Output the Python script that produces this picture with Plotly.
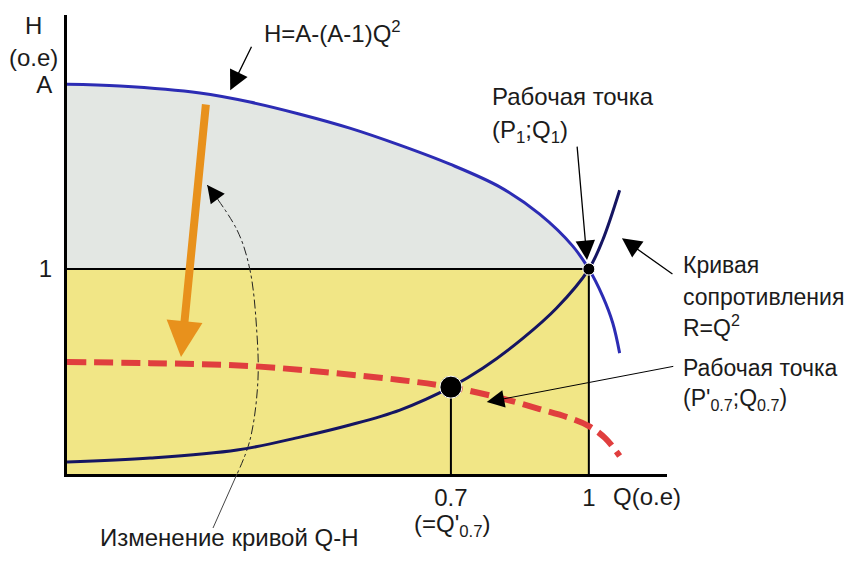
import plotly.graph_objects as go

# ---------------- data ----------------
# Pump Q-H curve  H = A-(A-1)Q^2
Q_H = [-0.135, -0.020, 0.154, 0.263, 0.372, 0.480, 0.589, 0.698, 0.807, 0.893, 0.965, 1.000, 1.030, 1.052, 1.067]
H_H = [1.902, 1.893, 1.859, 1.815, 1.756, 1.688, 1.605, 1.512, 1.400, 1.268, 1.112, 1.000, 0.868, 0.737, 0.590]

# Resistance curve R = Q^2
Q_R = [-0.135, 0.046, 0.235, 0.372, 0.480, 0.589, 0.700, 0.770, 0.857, 0.930, 1.000, 1.030, 1.067]
H_R = [0.059, 0.078, 0.117, 0.180, 0.239, 0.312, 0.424, 0.517, 0.663, 0.810, 1.000, 1.141, 1.385]

# Reduced-speed Q-H curve (dashed)
Q_NEW = [-0.135, 0.046, 0.263, 0.443, 0.589, 0.700, 0.807, 0.893, 0.959, 1.000, 1.035, 1.067]
H_NEW = [0.546, 0.541, 0.527, 0.493, 0.459, 0.424, 0.371, 0.317, 0.273, 0.234, 0.176, 0.088]

# Operating points
Q_OP = [1.0, 0.7]
H_OP = [1.0, 0.424]

X_TICKS = [0.7, 1.0]
X_TICK_TEXT = ["0.7", "1"]
Y_TICKS = [1.0, 1.902]
Y_TICK_TEXT = ["1", "A"]

# "Change of Q-H curve" arc (decorative)
Q_ARC = [0.170, 0.235, 0.263, 0.278, 0.280, 0.263, 0.235]
H_ARC = [1.410, 1.190, 0.995, 0.688, 0.444, 0.166, 0.0]

# ---------------- layout constants ----------------
X_MIN, X_MAX = -0.135, 1.17
Y_MIN, Y_MAX = 0.0, 2.24
OFF = 8                      # default page body margin
W, H = 856 - 2 * OFF, 561 - 2 * OFF
PL, PT, PW, PH = 67, 15, 600, 459   # plot area in page pixels
ML, MT = PL - OFF, PT - OFF
MR, MB = W - ML - PW, H - MT - PH

FONT = "Liberation Sans, Arial, sans-serif"
FS = 24
FS_R = 23
TXT = "#1b1b1b"
GREY = "#e3e7e3"
YELLOW = "#f1e686"
BLUE = "#2c2cb4"
NAVY = "#151562"
RED = "#e03e3e"
ORANGE = "#e8911c"


def pp(px, py):
    """page pixel position -> paper coordinates (for text placement)"""
    return (px - PL) / PW, (PT + PH - py) / PH


fig = go.Figure()

# grey area under the pump curve, above H = 1
k = Q_H.index(Q_OP[0]) + 1
fig.add_trace(go.Scatter(x=[X_MIN, Q_OP[0]], y=[H_OP[0], H_OP[0]], mode="lines",
                         line=dict(width=0), hoverinfo="skip", showlegend=False))
fig.add_trace(go.Scatter(x=Q_H[:k], y=H_H[:k], mode="lines", line=dict(width=0, shape="spline"),
                         fill="tonexty", fillcolor=GREY, hoverinfo="skip", showlegend=False))

# reference lines
fig.add_trace(go.Scatter(x=[X_MIN, Q_OP[0], Q_OP[0]], y=[H_OP[0], H_OP[0], 0], mode="lines",
                         line=dict(color="black", width=2), hoverinfo="skip", showlegend=False))
fig.add_trace(go.Scatter(x=[Q_OP[1], Q_OP[1]], y=[H_OP[1], 0], mode="lines",
                         line=dict(color="black", width=2), hoverinfo="skip", showlegend=False))

# arc "change of Q-H curve"
fig.add_trace(go.Scatter(x=Q_ARC, y=H_ARC, mode="lines",
                         line=dict(color="#222222", width=1, dash="dashdot", shape="spline"),
                         hoverinfo="skip", showlegend=False))

# curves
fig.add_trace(go.Scatter(x=Q_NEW, y=H_NEW, mode="lines",
                         line=dict(color=RED, width=6, dash="19px,8px", shape="spline"), showlegend=False))
fig.add_trace(go.Scatter(x=Q_R, y=H_R, mode="lines",
                         line=dict(color=NAVY, width=3, shape="spline"), showlegend=False))
fig.add_trace(go.Scatter(x=Q_H, y=H_H, mode="lines",
                         line=dict(color=BLUE, width=3, shape="spline"), showlegend=False))

# operating points
fig.add_trace(go.Scatter(x=Q_OP, y=H_OP, mode="markers",
                         marker=dict(color="black", size=[12, 22], opacity=1), showlegend=False))

# yellow area (below everything)
fig.add_shape(type="rect", xref="x", yref="y", x0=X_MIN, x1=Q_OP[0], y0=0, y1=H_OP[0],
              fillcolor=YELLOW, line=dict(width=0), layer="below")

ann = []


def text(px, py, s, xanchor="left", size=FS):
    x, y = pp(px, py)
    ann.append(dict(x=x, y=y, xref="paper", yref="paper", text=s, showarrow=False,
                    xanchor=xanchor, yanchor="middle", font=dict(family=FONT, size=size, color=TXT)))


def arrow(x, y, axp, ayp, color="black", width=1.3, head=2, size=3):
    ann.append(dict(x=x, y=y, xref="x", yref="y", ax=axp, ay=ayp, text="", showarrow=True,
                    arrowhead=head, arrowsize=size, arrowwidth=width, arrowcolor=color))


text(33, 26, "H", "center")
text(33, 57, "(o.e)", "center")
text(262, 32, "H=A-(A-1)Q<sup>2</sup>")
text(490, 97, "Рабочая точка")
text(490, 132, "(P<sub>1</sub>;Q<sub>1</sub>)")
text(681, 265, "Кривая", size=FS_R)
text(681, 297, "сопротивления", size=FS_R)
text(681, 326, "R=Q<sup>2</sup>", size=FS_R)
text(681, 368, "Рабочая точка", size=FS_R)
text(681, 399, "(P'<sub>0.7</sub>;Q<sub>0.7</sub>)", size=FS_R)
text(452, 525, "(=Q'<sub>0.7</sub>)", "center")
text(611, 497, "Q(o.e)")
text(98, 537, "Изменение кривой Q-H")

# arrows (tip in data units, tail as pixel offset)
arrow(0.22, 1.873, 22, -45)                    # formula -> pump curve
arrow(0.996, 1.044, -10, -115)                 # P1 label -> point
arrow(1.072, 1.151, 52, 37)                    # resistance label -> curve
arrow(0.778, 0.351, 188, -36, width=1.0, size=3.5)  # P0.7 label -> point
arrow(0.170, 1.410, 12, 16, width=1.0, size=3.5)    # arc head
# orange arrow: speed reduction
arrow(0.113, 0.571, 25, -254, color=ORANGE, width=8, head=2, size=0.9)

# thin leader from label to the arc
x0, y0 = pp(213, 528)
x1, y1 = pp(237, 474)
fig.add_shape(type="line", xref="paper", yref="paper", x0=x0, y0=y0, x1=x1, y1=y1,
              line=dict(color="#444444", width=1))

fig.update_layout(
    width=W, height=H,
    margin=dict(l=ML, r=MR, t=MT, b=MB, autoexpand=False),
    paper_bgcolor="white", plot_bgcolor="white",
    annotations=ann,
    showlegend=False,
    xaxis=dict(range=[X_MIN, X_MAX], showgrid=False, zeroline=False, showline=True,
               linecolor="black", linewidth=3, ticks="", tickvals=X_TICKS, ticktext=X_TICK_TEXT,
               tickfont=dict(family=FONT, size=FS, color=TXT), ticklabelstandoff=0,
               automargin=False),
    yaxis=dict(range=[Y_MIN, Y_MAX], showgrid=False, zeroline=False, showline=True,
               linecolor="black", linewidth=3, ticks="", tickvals=Y_TICKS, ticktext=Y_TICK_TEXT,
               tickfont=dict(family=FONT, size=FS, color=TXT), ticklabelstandoff=7,
               automargin=False),
)

fig.write_html("out.html")
